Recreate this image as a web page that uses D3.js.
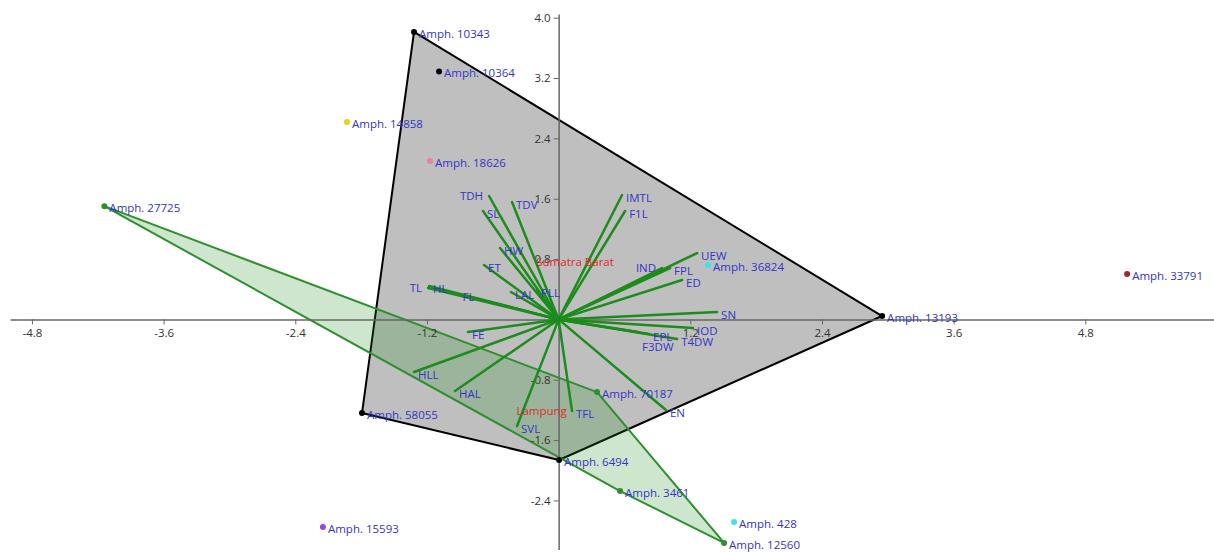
<!DOCTYPE html>
<html>
<head>
<meta charset="utf-8">
<script src="https://cdn.jsdelivr.net/npm/d3@7"></script>
<style>
  body { margin: 0; background: #fff; }
  svg { display: block; font-family: "Open Sans", sans-serif; }
</style>
</head>
<body>
<script>
'use strict';

// chart size
let width = 1214,
  height = 553

// samples (scores)
const sampleNames = ["Amph. 10343", "Amph. 10364", "Amph. 14858", "Amph. 18626", "Amph. 27725",
  "Amph. 36824", "Amph. 33791", "Amph. 13193", "Amph. 58055", "Amph. 70187", "Amph. 6494",
  "Amph. 3461", "Amph. 428", "Amph. 12560", "Amph. 15593"];
const sampleX = [-1.318, -1.090, -1.929, -1.172, -4.140, 1.362, 5.181, 2.948, -1.792, 0.350, 0.004,
  0.560, 1.599, 1.508, -2.148];
const sampleY = [3.811, 3.287, 2.616, 2.100, 1.501, 0.721, 0.602, 0.045, -1.241, -0.963, -1.864,
  -2.275, -2.685, -2.963, -2.752];
const sampleGroup = ["Sumatra Barat", "Sumatra Barat", "G3", "G4", "Lampung",
  "G6", "G7", "Sumatra Barat", "Sumatra Barat", "Lampung", "Sumatra Barat",
  "Lampung", "G8", "Lampung", "G9"];

// variables (loadings)
const varNames = ["TDH", "SL", "TDV", "HW", "ET", "TL", "HL", "FL", "LAL", "PLL",
  "IMTL", "F1L", "IND", "FPL", "UEW", "ED", "SN", "IOD", "T4DW", "EPL", "F3DW",
  "EN", "TFL", "SVL", "HAL", "HLL", "FE"];
const varX = [-0.634, -0.689, -0.425, -0.534, -0.680, -1.190, -1.181, -0.913, -0.434, -0.197,
  0.578, 0.606, 0.943, 1.016, 1.262, 1.125, 1.444, 1.225, 1.080, 0.824, 0.724,
  0.978, 0.122, -0.379, -0.944, -1.318, -0.826];
const varY = [1.636, 1.437, 1.556, 0.946, 0.721, 0.416, 0.443, 0.337, 0.363, 0.390,
  1.649, 1.437, 0.681, 0.681, 0.880, 0.522, 0.098, -0.114, -0.260, -0.194, -0.167,
  -1.201, -1.214, -1.413, -0.950, -0.697, -0.167];

// axis ticks
const xTicks = [-4.8, -3.6, -2.4, -1.2, 1.2, 2.4, 3.6, 4.8];
const yTicks = [-2.4, -1.6, -0.8, 0.8, 1.6, 2.4, 3.2, 4.0];

// group colours
const groupColor = {
  "Sumatra Barat": "#000000", "Lampung": "#2f8f2f", "G3": "#e8d21c", "G4": "#f27aac",
  "G6": "#3fe3ea", "G7": "#9c2a2a", "G8": "#3fe3ea", "G9": "#9b45d6"
};
const hullStyle = {
  "Sumatra Barat": { fill: "rgba(128,128,128,0.5)", stroke: "#000" },
  "Lampung": { fill: "rgba(30,140,30,0.22)", stroke: "#2f8f2f" }
};
// labels placed on the left of the vector tip
const leftLabels = ["TDH", "TL", "IND"];
const labelNudge = { "F3DW": 12 };

const labelColor = "#3434c4";

let svg = d3.select("body").append("svg")
  .attr("width", width)
  .attr("height", height);

let x = d3.scaleLinear().domain([-5, 6]).range([10, 1217]);
let y = d3.scaleLinear().domain([-3.05, 4.05]).range([549.5, 13.9]);

let samples = sampleNames.map((n, i) => ({ name: n, x: sampleX[i], y: sampleY[i], group: sampleGroup[i] }));
let vars = varNames.map((n, i) => ({ name: n, x: varX[i], y: varY[i] }));

// convex hulls
let groups = d3.groups(samples, d => d.group).filter(g => g[1].length >= 3);
groups.forEach(([g, pts]) => {
  let hull = d3.polygonHull(pts.map(p => [x(p.x), y(p.y)]));
  svg.append("path")
    .attr("d", "M" + hull.join("L") + "Z")
    .attr("fill", hullStyle[g].fill)
    .attr("stroke", hullStyle[g].stroke)
    .attr("stroke-width", 2)
    .attr("stroke-linejoin", "round");
});

// axes
let fmt = d => d.toFixed(1);
let xAxis = svg.append("g")
  .attr("transform", "translate(0," + y(0) + ")")
  .call(d3.axisBottom(x).tickValues(xTicks).tickFormat(fmt).tickSize(5).tickSizeOuter(0).tickPadding(4));
let yAxis = svg.append("g")
  .attr("transform", "translate(" + x(0) + ",0)")
  .call(d3.axisLeft(y).tickValues(yTicks).tickFormat(fmt).tickSize(5).tickSizeOuter(0).tickPadding(3));
[xAxis, yAxis].forEach(a => {
  a.select(".domain").attr("stroke", "#666").attr("stroke-width", 1.5);
  a.selectAll(".tick line").attr("stroke", "#666");
  a.selectAll(".tick text").attr("fill", "#333").style("font-size", "11.5px").style("font-family", "'Open Sans', sans-serif");
});

// loading vectors
svg.append("g")
  .selectAll("line")
  .data(vars)
  .join("line")
  .attr("x1", x(0))
  .attr("y1", y(0))
  .attr("x2", d => x(d.x))
  .attr("y2", d => y(d.y))
  .attr("stroke", "#1c8c1c")
  .attr("stroke-width", 2.5)
  .attr("stroke-linecap", "round");

svg.append("g")
  .selectAll("text")
  .data(vars)
  .join("text")
  .attr("x", d => leftLabels.includes(d.name) ? x(d.x) - 6 : x(d.x) + 4)
  .attr("y", d => y(d.y) + (leftLabels.includes(d.name) ? 0 : 3) + (labelNudge[d.name] || 0))
  .attr("dy", "0.35em")
  .attr("text-anchor", d => leftLabels.includes(d.name) ? "end" : "start")
  .attr("fill", labelColor)
  .style("font-size", "11.5px")
  .text(d => d.name);

// group labels at centroids
groups.forEach(([g, pts]) => {
  svg.append("text")
    .attr("x", x(d3.mean(pts, p => p.x)) + 5)
    .attr("y", y(d3.mean(pts, p => p.y)) + 3)
    .attr("dy", "0.35em")
    .attr("fill", "#e02a2a")
    .style("font-size", "11.5px")
    .text(g);
});

// sample points
svg.append("g")
  .selectAll("circle")
  .data(samples)
  .join("circle")
  .attr("cx", d => x(d.x))
  .attr("cy", d => y(d.y))
  .attr("r", 3)
  .attr("fill", d => groupColor[d.group]);

svg.append("g")
  .selectAll("text")
  .data(samples)
  .join("text")
  .attr("x", d => x(d.x) + 5)
  .attr("y", d => y(d.y) + 2)
  .attr("dy", "0.35em")
  .attr("fill", labelColor)
  .style("font-size", "11.5px")
  .text(d => d.name);
</script>
</body>
</html>
